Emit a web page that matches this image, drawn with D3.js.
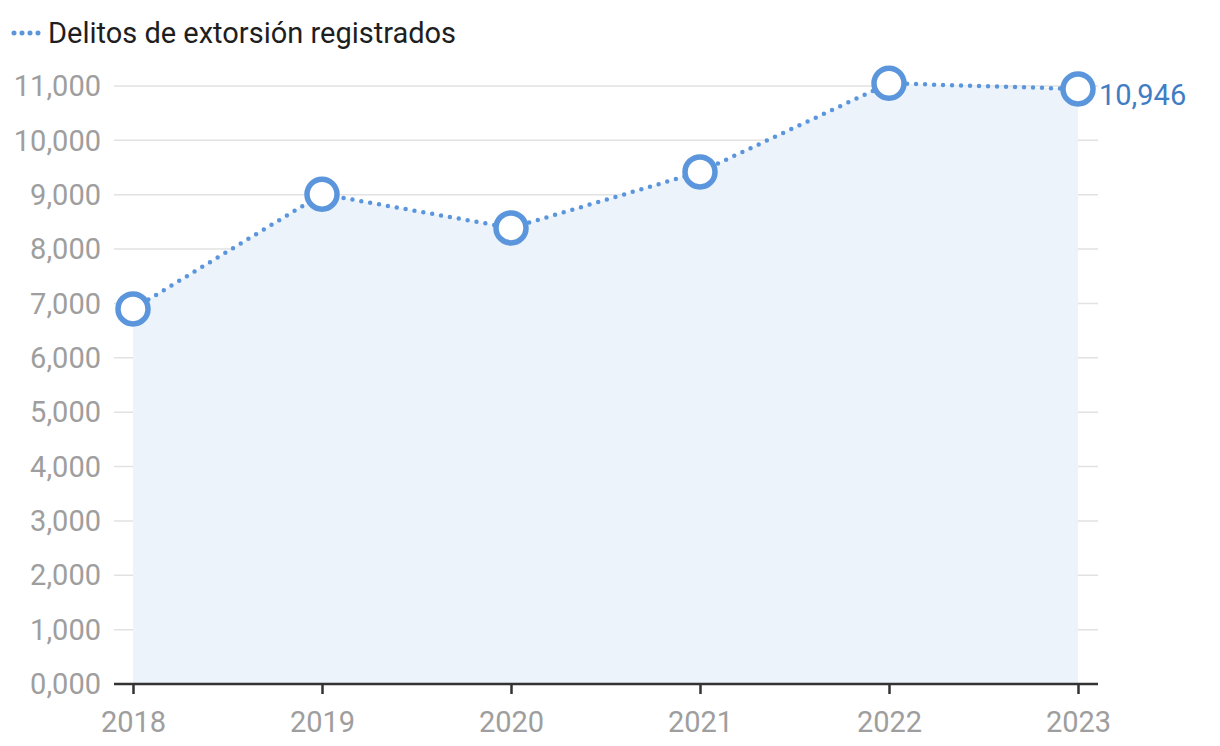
<!DOCTYPE html>
<html>
<head>
<meta charset="utf-8">
<script src="https://cdn.jsdelivr.net/npm/d3@7"></script>
<style>
  body { margin: 0; background: #fff; }
  svg { font-family: "Roboto", "Liberation Sans", sans-serif; }
</style>
</head>
<body>
<div id="chart"></div>
<script>
// Data
const years = [2018, 2019, 2020, 2021, 2022, 2023];
const extorsion = [6900, 9010, 8390, 9420, 11050, 10946];
const yTicks = [0, 1000, 2000, 3000, 4000, 5000, 6000, 7000, 8000, 9000, 10000, 11000];
const seriesName = "Delitos de extorsión registrados";

const width = 1220, height = 746;
const blue = "#5b96dc";

const svg = d3.select("#chart").append("svg")
	.attr("width", width)
	.attr("height", height);

const x = d3.scalePoint()
	.domain(years)
	.range([133, 1078]);

const y = d3.scaleLinear()
	.domain([0, 11000])
	.range([684, 86]);

// gridlines
svg.append("g")
	.selectAll("line")
	.data(yTicks.filter(d => d > 0))
	.join("line")
	.attr("x1", 114)
	.attr("x2", 1098)
	.attr("y1", d => y(d))
	.attr("y2", d => y(d))
	.attr("stroke", "#e2e2e2")
	.attr("stroke-width", 1.5);

// y tick labels
const fmt = d => d === 0 ? "0,000" : d3.format(",")(d);
svg.append("g")
	.selectAll("text")
	.data(yTicks)
	.join("text")
	.attr("x", 101)
	.attr("y", d => y(d))
	.attr("dy", "0.35em")
	.attr("text-anchor", "end")
	.attr("font-size", "29px")
	.attr("fill", "#9e9e9e")
	.text(fmt);

// area under the line
const area = d3.area()
	.x((d, i) => x(years[i]))
	.y0(y(0))
	.y1(d => y(d));

svg.append("path")
	.datum(extorsion)
	.attr("d", area)
	.attr("fill", "#ecf3fb");

// x axis
const xAxis = d3.axisBottom(x).tickSize(10).tickPadding(17).tickFormat(d => d);
const gx = svg.append("g")
	.attr("transform", "translate(0," + y(0) + ")")
	.call(xAxis);
gx.select(".domain").remove();
gx.append("line")
	.attr("x1", 114).attr("x2", 1098)
	.attr("stroke", "#333").attr("stroke-width", 2.5);
gx.selectAll(".tick line").attr("stroke", "#333").attr("stroke-width", 2.5);
gx.selectAll(".tick text")
	.attr("font-size", "29px")
	.attr("fill", "#9e9e9e")
	.attr("font-family", "Roboto, 'Liberation Sans', sans-serif");

// dotted line
const line = d3.line()
	.x((d, i) => x(years[i]))
	.y(d => y(d));

svg.append("path")
	.datum(extorsion)
	.attr("d", line)
	.attr("fill", "none")
	.attr("stroke", blue)
	.attr("stroke-width", 4.5)
	.attr("stroke-linecap", "round")
	.attr("stroke-dasharray", "0 9");

// markers
svg.append("g")
	.selectAll("circle")
	.data(extorsion)
	.join("circle")
	.attr("cx", (d, i) => x(years[i]))
	.attr("cy", d => y(d))
	.attr("r", 15)
	.attr("fill", "#fff")
	.attr("stroke", blue)
	.attr("stroke-width", 5.5);

// last value label
const last = extorsion.length - 1;
svg.append("text")
	.attr("x", x(years[last]) + 21)
	.attr("y", y(extorsion[last]) + 6)
	.attr("dy", "0.35em")
	.attr("font-size", "29px")
	.attr("fill", "#3f7dc4")
	.text(d3.format(",")(extorsion[last]));

// legend
const legend = svg.append("g").attr("transform", "translate(12,33)");
legend.append("line")
	.attr("x1", 2).attr("x2", 34)
	.attr("stroke", blue)
	.attr("stroke-width", 5)
	.attr("stroke-linecap", "round")
	.attr("stroke-dasharray", "0 8");
legend.append("text")
	.attr("x", 36)
	.attr("dy", "0.35em")
	.attr("font-size", "29px")
	.attr("fill", "#1e1e1e")
	.text(seriesName);
</script>
</body>
</html>
